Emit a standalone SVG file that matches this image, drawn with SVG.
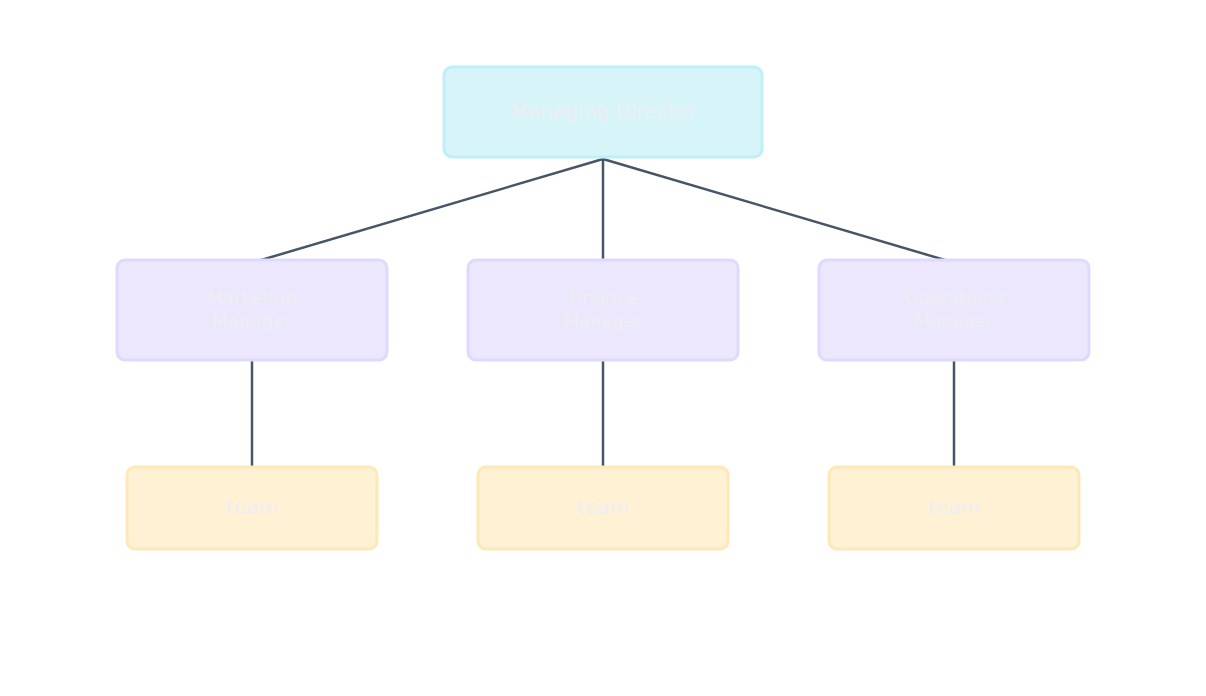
<svg xmlns="http://www.w3.org/2000/svg" width="1206" height="696" viewBox="0 0 1206 696">
<style>
.t{font-family:"DejaVu Sans",sans-serif;fill:#eeeef4;text-anchor:middle}
.c{stroke:#475569;stroke-width:2.5;fill:none}
.top{fill:#d7f5f9;stroke:#bff0f7;stroke-width:3}
.mid{fill:#ece7fd;stroke:#e0d9fb;stroke-width:3}
.bot{fill:#fef1d4;stroke:#fde8b8;stroke-width:3}
</style>
<rect width="1206" height="696" fill="#fff"/>
<g id="connectors">
<path class="c" d="M603 159L251 263M603 159V264M603 159L955 263M252 356V467M603 356V467M954 356V467"/>
</g>
<g id="md"><rect class="top" x="444" y="67" width="318" height="90" rx="8"/><text class="t" x="603" y="118" font-size="20">Managing Director</text></g>
<g id="mkt"><rect class="mid" x="117" y="260" width="270" height="100" rx="8"/><text class="t" x="252" y="304" font-size="18">Marketing</text><text class="t" x="252" y="327" font-size="18">Manager</text></g>
<g id="fin"><rect class="mid" x="468" y="260" width="270" height="100" rx="8"/><text class="t" x="603" y="304" font-size="18">Finance</text><text class="t" x="603" y="327" font-size="18">Manager</text></g>
<g id="ops"><rect class="mid" x="819" y="260" width="270" height="100" rx="8"/><text class="t" x="954" y="304" font-size="18">Operations</text><text class="t" x="954" y="327" font-size="18">Manager</text></g>
<g id="team1"><rect class="bot" x="127" y="467" width="250" height="82" rx="8"/><text class="t" x="252" y="514" font-size="20">team</text></g>
<g id="team2"><rect class="bot" x="478" y="467" width="250" height="82" rx="8"/><text class="t" x="603" y="514" font-size="20">team</text></g>
<g id="team3"><rect class="bot" x="829" y="467" width="250" height="82" rx="8"/><text class="t" x="954" y="514" font-size="20">team</text></g>
</svg>
